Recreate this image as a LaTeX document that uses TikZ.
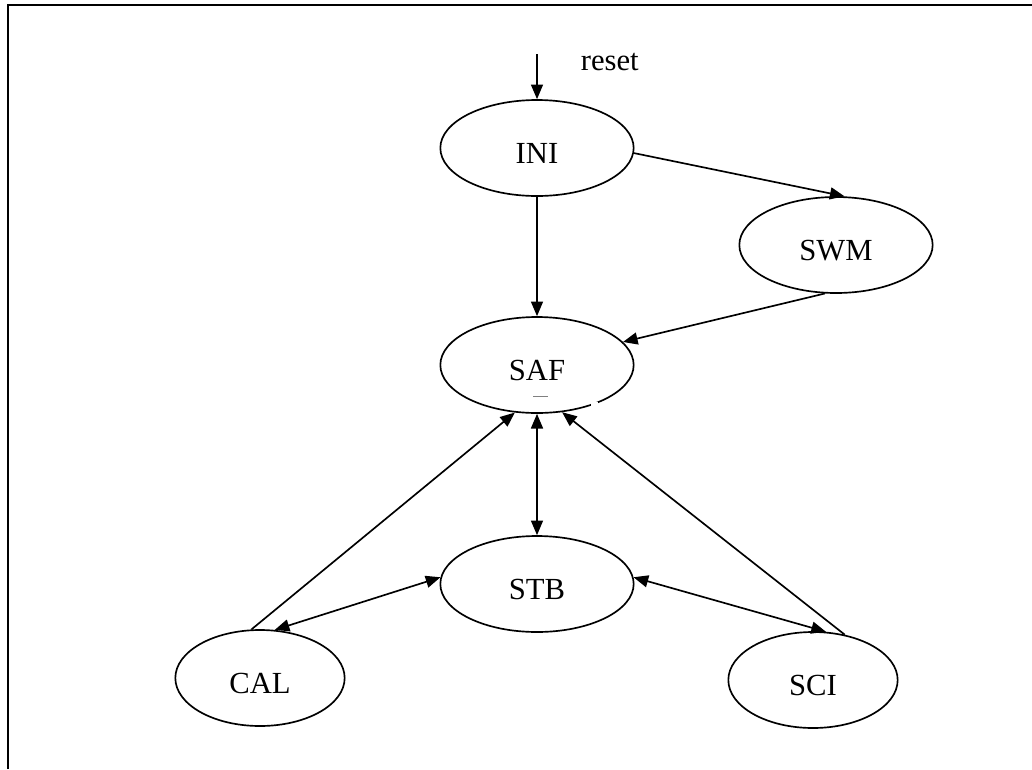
\documentclass[tikz,border=0pt]{standalone}
\usepackage{fontspec}
\setmainfont{Liberation Serif}
\usetikzlibrary{shapes.geometric,arrows.meta}

\tikzset{every picture/.style={line width=1.25pt}}
\tikzset{
  state/.style={draw, ellipse, inner sep=0.75pt, minimum width=145pt, minimum height=72pt, text height=24pt, text depth=0.5pt, font=\fontsize{23}{27}\selectfont},
  smallstate/.style={state, minimum width=127pt},
  trans/.style={-{Triangle[length=11pt,width=9pt]}},
  bitrans/.style={{Triangle[length=11pt,width=9pt]}-{Triangle[length=11pt,width=9pt]}}
}

\begin{document}
\begin{tikzpicture}[x=0.75pt,y=0.75pt,yscale=-1,xscale=1]
\useasboundingbox (0,0) rectangle (1032,769);

%Frame
\draw [line width=1.6pt] (8,769) -- (8,5) -- (1032,5);

%States
\node [state] (ini) at (537,148) {INI};
\node [state] (swm) at (836,245) {SWM};
\node [state] (saf) at (537,365) {SAF};
\node [state] (stb) at (537,584) {STB};
\node [smallstate] (cal) at (260,678) {CAL};
\node [smallstate] (sci) at (813,680) {SCI};

%Reset
\coordinate (rst) at (537,54);
\draw [trans] (rst) -- (ini.north);
\draw (580,70) node [anchor=base west][inner sep=0pt] {\fontsize{23}{27}\selectfont reset};

%Transitions
\draw [trans] (ini.-3) -- (swm.80);
\draw [trans] (ini.south) -- (saf.north);
\draw [trans] (swm.257) -- (saf.15);
\draw [trans] (cal.100) -- (saf.245);
\draw [trans] (sci.55) -- (saf.298);
\draw [bitrans] (saf.south) -- (stb.north);
\draw [bitrans] (stb.176) -- (cal.73);
\draw [bitrans] (stb.4) -- (sci.75);

%Marks
\draw [gray, line width=0.5pt] (533,396) -- (548,396);
\fill [white] (591,402) rectangle (598,410);

\end{tikzpicture}
\end{document}
